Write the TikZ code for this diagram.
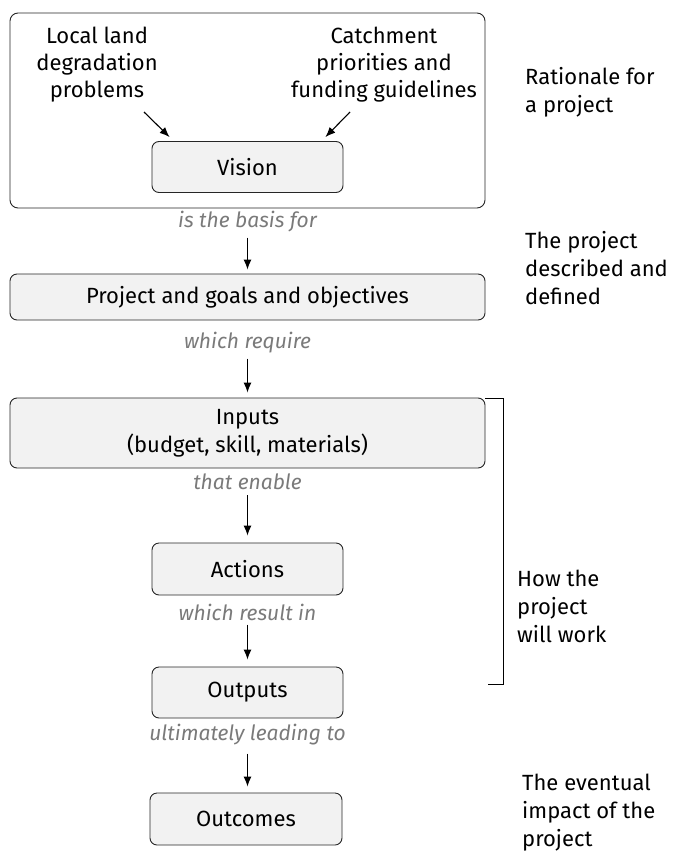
\documentclass[tikz,border=0pt]{standalone}
\usepackage{fontspec}
\setmainfont{Fira Sans}
\usetikzlibrary{arrows.meta,calc}
\definecolor{boxfill}{HTML}{F2F2F2}
\definecolor{linkgray}{HTML}{7A7A7A}
\tikzset{
  x=1pt, y=-1pt,
  box/.style={draw=black!85, line width=0.9pt, fill=boxfill, rounded corners=7pt,
    font=\fontsize{22}{28}\selectfont, align=center, inner sep=0pt},
  frame/.style={draw=black!85, line width=0.9pt, rounded corners=8pt, inner sep=0pt},
  plain/.style={font=\fontsize{22}{27}\selectfont, align=center, inner sep=0pt},
  side/.style={font=\fontsize{22}{28}\selectfont, align=left, anchor=west, inner sep=0pt},
  link/.style={font=\fontsize{21}{24}\selectfont\itshape, text=linkgray, inner sep=0pt},
  arr/.style={-{Latex[length=10pt,width=8pt]}, line width=1.1pt},
}
\begin{document}
\begin{tikzpicture}
\useasboundingbox (0,0) rectangle (676,854);

% rationale frame with its two sources
\node[frame, minimum width=475pt, minimum height=195pt] (rationale) at (247.5,110.5) {};
\node[box, minimum width=191pt, minimum height=51pt] (vision) at (247.5,167) {Vision};
\node[plain] (local) at (97,65) {Local land\\degradation\\problems};
\node[plain] (catch) at (384,65) {Catchment\\priorities and\\funding guidelines};
\coordinate (localtail) at (144,112);
\coordinate (catchtail) at (350,112);
\draw[arr] (localtail) -- ($(vision.north west)+(18,-4)$);
\draw[arr] (catchtail) -- ($(vision.north east)+(-18,-4)$);

% main chain
\node[link] (l1) at (247.5,222) {is the basis for};
\node[box, minimum width=475pt, minimum height=46pt] (project) at (247.5,297) {Project and goals and objectives};
\node[link] (l2) at (247.5,343) {which require};
\node[box, minimum width=475pt, minimum height=70pt] (inputs) at (247.5,433) {Inputs\\(budget, skill, materials)};
\node[link] (l3) at (247.5,482) {that enable};
\node[box, minimum width=191pt, minimum height=52pt] (actions) at (247.5,569) {Actions};
\node[link] (l4) at (247.5,612) {which result in};
\node[box, minimum width=191pt, minimum height=51pt] (outputs) at (247.5,692.5) {Outputs};
\node[link] (l5) at (247.5,735) {ultimately leading to};
\node[box, minimum width=192pt, minimum height=52pt] (outcomes) at (246,819) {Outcomes};

\draw[arr, shorten <=5pt, shorten >=4pt] (l1.south) -- (project.north);
\draw[arr, shorten <=5pt, shorten >=5pt] (l2.south) -- (inputs.north);
\draw[arr, shorten <=5pt, shorten >=7pt] (l3.south) -- (actions.north);
\draw[arr, shorten <=4pt, shorten >=7pt] (l4.south) -- (outputs.north);
\draw[arr, shorten <=8pt, shorten >=6pt] (l5.south) -- (l5.south |- outcomes.north);

% bracket for the working part
\coordinate (brtop) at (503,398);
\coordinate (brbot) at (503,684);
\draw[line width=0.9pt] ($(brtop)+(-18,0)$) -- (brtop) -- (brbot) -- ($(brbot)+(-15,0)$);

% descriptions on the right
\node[side] (why) at (525,92) {Rationale for\\a project};
\node[side] (what) at (525,268) {The project\\described and\\defined};
\node[side] (how) at (517,606) {How the\\project\\will work};
\node[side] (impact) at (522,813) {The eventual\\impact of the\\project};
\end{tikzpicture}
\end{document}
